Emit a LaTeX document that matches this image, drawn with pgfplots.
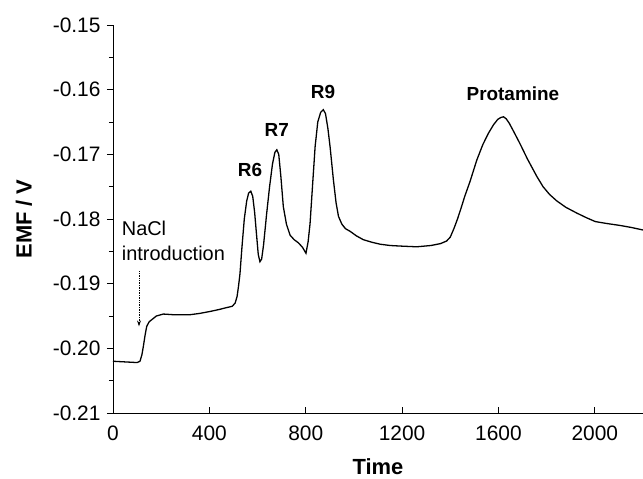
\documentclass[border=0pt]{standalone}
\usepackage{fontspec}
\setmainfont{Liberation Sans}
\usepackage{pgfplots}
\pgfplotsset{compat=1.18}
\usetikzlibrary{arrows.meta}

\begin{document}
\begin{tikzpicture}
\begin{axis}[
  name=ax,
  scale only axis, width=530bp, height=388bp,
  xmin=0, xmax=2200, ymin=-0.21, ymax=-0.15,
  axis x line=bottom, axis y line=left,
  axis line style={-, line width=0.8pt},
  xtick={0,400,...,2000},
  xticklabels={0,400,800,1200,1600,2000},
  ytick={-0.21,-0.20,-0.19,-0.18,-0.17,-0.16,-0.15},
  yticklabels={-0.21,-0.20,-0.19,-0.18,-0.17,-0.16,-0.15},
  minor y tick num=1,
  xtick align=inside, ytick align=outside,
  major tick length=6bp, minor tick length=4bp,
  tick style={black, line width=0.7pt},
  tick label style={font=\fontsize{21}{21}\selectfont},
  xticklabel style={yshift=-9bp},
  yticklabel style={xshift=-3bp},
  xlabel={\textbf{Time}}, ylabel={\textbf{EMF / V}},
  label style={font=\fontsize{22}{22}\selectfont},
  xlabel style={at={(axis description cs:0.5,-0.138)}, anchor=center},
  ylabel style={at={(axis description cs:-0.168,0.5)}, anchor=center},
  clip=false]
\addplot[black, line width=1.3pt] coordinates {
(0,-0.2020)(50,-0.2021)(100,-0.2022)(112,-0.2020)(120,-0.2010)(126,-0.1997)
(133,-0.1980)(140,-0.1966)(150,-0.1959)(160,-0.1956)(180,-0.1950)(209,-0.1947)
(250,-0.1948)(320,-0.1948)(360,-0.1946)(403,-0.1943)(440,-0.1940)(472,-0.1937)
(495,-0.1935)(507,-0.1930)(515,-0.1920)(521,-0.1904)(527,-0.1885)(535,-0.1845)
(545,-0.1800)(555,-0.1772)(563,-0.1760)(572,-0.1757)(580,-0.1765)(588,-0.1790)
(596,-0.1825)(603,-0.1855)(610,-0.1866)(617,-0.1862)(625,-0.1840)(638,-0.1791)
(650,-0.1750)(662,-0.1715)(672,-0.1697)(680,-0.1693)(688,-0.1700)(697,-0.1735)
(707,-0.1781)(720,-0.1808)(735,-0.1825)(752,-0.1832)(770,-0.1837)(787,-0.1844)
(801,-0.1853)(810,-0.1835)(818,-0.1807)(828,-0.1750)(839,-0.1688)(850,-0.1650)
(862,-0.1635)(873,-0.1631)(882,-0.1637)(892,-0.1660)(901,-0.1688)(915,-0.1740)
(926,-0.1775)(936,-0.1796)(950,-0.1808)(965,-0.1815)(984,-0.1819)(1010,-0.1826)
(1039,-0.1832)(1075,-0.1836)(1109,-0.1839)(1150,-0.1841)(1200,-0.1842)(1261,-0.1843)
(1320,-0.1841)(1360,-0.1838)(1385,-0.1834)(1400,-0.1828)(1415,-0.1815)(1430,-0.1800)
(1445,-0.1783)(1460,-0.1765)(1482,-0.1742)(1510,-0.1709)(1535,-0.1685)(1559,-0.1667)
(1580,-0.1654)(1597,-0.1646)(1610,-0.1643)(1621,-0.1642)(1632,-0.1645)(1645,-0.1652)
(1665,-0.1666)(1690,-0.1684)(1720,-0.1707)(1759,-0.1734)(1785,-0.1750)(1812,-0.1762)
(1842,-0.1772)(1880,-0.1782)(1926,-0.1791)(1965,-0.1798)(2002,-0.1804)(2050,-0.1807)
(2105,-0.1810)(2150,-0.1813)(2200,-0.1817)
};
\node[font=\fontsize{19}{19}\selectfont\bfseries] at (axis cs:569,-0.1724) {R6};
\node[font=\fontsize{19}{19}\selectfont\bfseries] at (axis cs:680,-0.1662) {R7};
\node[font=\fontsize{19}{19}\selectfont\bfseries] at (axis cs:872,-0.1603) {R9};
\node[font=\fontsize{19}{19}\selectfont\bfseries] at (axis cs:1660,-0.1606) {Protamine};
\node[font=\fontsize{20}{20}\selectfont, anchor=west, inner sep=0pt]
  at (axis cs:36,-0.1814) {NaCl};
\node[font=\fontsize{20}{20}\selectfont, anchor=west, inner sep=0pt]
  at (axis cs:36,-0.1853) {introduction};
\draw[densely dotted, line width=0.7pt, -{Stealth[length=6bp,width=4bp]}]
  (axis cs:108,-0.1881) -- (axis cs:108,-0.1966);
\end{axis}
\pgfresetboundingbox
\path ([shift={(-113bp,-66bp)}]ax.south west) rectangle ([shift={(0bp,25bp)}]ax.north east);
\end{tikzpicture}
\end{document}
